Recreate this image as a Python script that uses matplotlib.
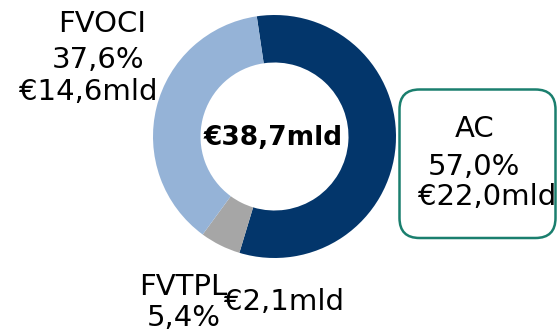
import matplotlib
matplotlib.use("Agg")
import matplotlib.pyplot as plt
from matplotlib.patches import FancyBboxPatch

# Portfolio split by accounting category
categories = ["AC", "FVTPL", "FVOCI"]
shares_pct = [57.0, 5.4, 37.6]
share_labels = ["57,0%", "5,4%", "37,6%"]
amount_labels = ["€22,0mld", "€2,1mld", "€14,6mld"]
total_label = "€38,7mld"
colors = ["#03366B", "#A6A6A6", "#95B3D7"]

W, H = 557, 333
fig = plt.figure(figsize=(W / 100, H / 100), dpi=100)
ax = fig.add_axes([0, 0, 1, 1])

def py(y):
    # pixel row (from top) to data y
    return H - y

cx, cy, r_out, r_in = 274.5, 136.5, 121.5, 74.0
ax.pie(shares_pct, colors=colors, startangle=98.4, counterclock=False,
       center=(cx, py(cy)), radius=r_out,
       wedgeprops=dict(width=r_out - r_in, linewidth=0))

ax.set_xlim(0, W)
ax.set_ylim(0, H)
ax.set_aspect("equal")
ax.axis("off")

font = "DejaVu Sans"
fs = 21

def label(x, baseline, s):
    ax.text(x, py(baseline), s, ha="center", va="baseline", fontsize=fs,
            family=font, color="black")

# centre total
ax.text(273.5, py(145), total_label, ha="center", va="baseline",
        fontsize=19, fontweight="bold", family=font, color="black")

# FVOCI label
label(102, 32, categories[2])
label(98, 68, share_labels[2])
label(88, 100, amount_labels[2])

# AC label in rounded box
box = FancyBboxPatch((399.5 + 20, py(238) + 20), 156 - 40, 148.5 - 40,
                     boxstyle="round,pad=20", linewidth=1.8,
                     edgecolor="#1A7F6E", facecolor="white")
ax.add_patch(box)
label(475, 137, categories[0])
label(474, 175, share_labels[0])
label(487, 205, amount_labels[0])

# FVTPL label
label(183, 295, categories[1])
label(184, 326, share_labels[1])
label(284, 310, amount_labels[1])

fig.savefig("out.png", dpi=100)
